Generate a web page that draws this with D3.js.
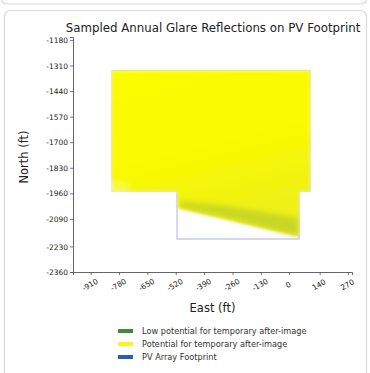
<!DOCTYPE html>
<html>
<head>
<meta charset="utf-8">
<script src="https://cdn.jsdelivr.net/npm/d3@7"></script>
<style>
  body { margin: 0; background: #fff; }
  svg { display: block; font-family: "DejaVu Sans", sans-serif; }
</style>
</head>
<body>
<div id="chart"></div>
<script>
// tick labels
const xTicks = [-910, -780, -650, -520, -390, -260, -130, 0, 140, 270];
const yTicks = [-1180, -1310, -1440, -1570, -1700, -1830, -1960, -2090, -2230, -2360];

// PV array outline (East, North in ft)
const footprint = [[-812, -1336], [95, -1336], [95, -1948], [45, -1948], [45, -2192], [-514, -2192], [-514, -1948], [-812, -1948]];
// area covered by "potential" glare points
const potentialZone = [[-812, -1336], [95, -1336], [95, -1948], [45, -1948], [45, -2182], [-514, -2036], [-514, -1948], [-812, -1948]];
// band of "low potential" glare points
const lowZone = [[-500, -1998], [-300, -2020], [40, -2085], [42, -2178], [-300, -2082], [-500, -2034]];

const legendItems = [
  { label: "Low potential for temporary after-image", color: "#3f8a3a" },
  { label: "Potential for temporary after-image", color: "#f7f51c" },
  { label: "PV Array Footprint", color: "#2a5db8" }
];

const W = 370, H = 373;
const svg = d3.select("#chart").append("svg").attr("width", W).attr("height", H);

// screenshot card frames
svg.append("rect").attr("x", 1).attr("y", -30).attr("width", 366).attr("height", 34)
  .attr("rx", 6).attr("fill", "none").attr("stroke", "#d9d9d9").attr("stroke-width", 1.2);
svg.append("rect").attr("x", 4.5).attr("y", 10.5).attr("width", 362).attr("height", 380)
  .attr("rx", 6).attr("fill", "#fff").attr("stroke", "#d9d9d9").attr("stroke-width", 1.2);

const x = d3.scaleLinear().domain([-991, 288]).range([73, 352]);
const y = d3.scaleLinear().domain([-2360, -1165]).range([272, 37]);

const defs = svg.append("defs");
defs.append("filter").attr("id", "soft").attr("x", "-5%").attr("y", "-5%").attr("width", "110%").attr("height", "110%")
  .append("feGaussianBlur").attr("stdDeviation", 0.8);
defs.append("filter").attr("id", "blur").attr("x", "-20%").attr("y", "-50%").attr("width", "140%").attr("height", "200%")
  .append("feGaussianBlur").attr("stdDeviation", 2.5);

const yel = defs.append("linearGradient").attr("id", "yel")
  .attr("x1", 0).attr("y1", 0).attr("x2", 0.3).attr("y2", 1);
yel.append("stop").attr("offset", "0%").attr("stop-color", "#fdfd00");
yel.append("stop").attr("offset", "60%").attr("stop-color", "#f9f902");
yel.append("stop").attr("offset", "100%").attr("stop-color", "#eef018");

const line = d3.line().x(d => x(d[0])).y(d => y(d[1]));

// footprint outline
svg.append("path").attr("d", line(footprint) + "Z")
  .attr("fill", "none").attr("stroke", "#d4d6e8").attr("stroke-width", 1.4);

const glare = svg.append("g").attr("filter", "url(#soft)");
glare.append("path").attr("d", line(potentialZone) + "Z").attr("fill", "url(#yel)");
glare.append("path").attr("d", line(lowZone) + "Z")
  .attr("fill", "#9cb83a").attr("opacity", 0.45).attr("filter", "url(#blur)");

// pale corner at lower-left of upper block
glare.append("ellipse").attr("cx", x(-785)).attr("cy", y(-1925)).attr("rx", 12).attr("ry", 6)
  .attr("fill", "#fff").attr("opacity", 0.25).attr("filter", "url(#blur)");

// footprint lower edges visible above the glare
svg.append("path").attr("d", line([[-514, -1965], [-514, -2192], [45, -2192], [45, -2160]]))
  .attr("fill", "none").attr("stroke", "#d4d6e8").attr("stroke-width", 1.4);

// axes
const yAxis = svg.append("g").attr("transform", "translate(73,0)")
  .call(d3.axisLeft(y).tickValues(yTicks).tickSize(3).tickPadding(2).tickFormat(d => d));
const xAxis = svg.append("g").attr("transform", "translate(0,272)")
  .call(d3.axisBottom(x).tickValues(xTicks).tickSize(3).tickPadding(2).tickFormat(d => d));

[yAxis, xAxis].forEach(a => {
  a.select(".domain").attr("stroke", "#555").attr("stroke-width", 0.9);
  a.selectAll(".tick line").attr("stroke", "#555").attr("stroke-width", 0.8);
  a.selectAll("text").attr("font-size", 7.5).attr("fill", "#222").attr("font-family", "DejaVu Sans");
});
yAxis.selectAll(".tick text").attr("dy", "0.35em");
xAxis.selectAll(".tick text")
  .attr("text-anchor", "middle").attr("dy", 0).attr("y", 0)
  .attr("transform", "translate(0,15) rotate(-30)");

// titles
svg.append("text").attr("x", 213).attr("y", 31.5).attr("text-anchor", "middle")
  .attr("font-size", 11.8).attr("fill", "#222")
  .text("Sampled Annual Glare Reflections on PV Footprint");

svg.append("text").attr("transform", "translate(28,157) rotate(-90)").attr("text-anchor", "middle")
  .attr("font-size", 11.5).attr("fill", "#222").text("North (ft)");

svg.append("text").attr("x", 212.5).attr("y", 312).attr("text-anchor", "middle")
  .attr("font-size", 11.5).attr("fill", "#222").text("East (ft)");

// legend
const leg = svg.append("g").attr("transform", "translate(118,331)");
legendItems.forEach((d, i) => {
  const row = leg.append("g").attr("transform", `translate(0,${i * 13})`);
  row.append("rect").attr("x", 0).attr("y", -2).attr("width", 15).attr("height", 4).attr("fill", d.color);
  row.append("text").attr("x", 24).attr("y", 2.8).attr("font-size", 8.2).attr("fill", "#333").text(d.label);
});
</script>
</body>
</html>
